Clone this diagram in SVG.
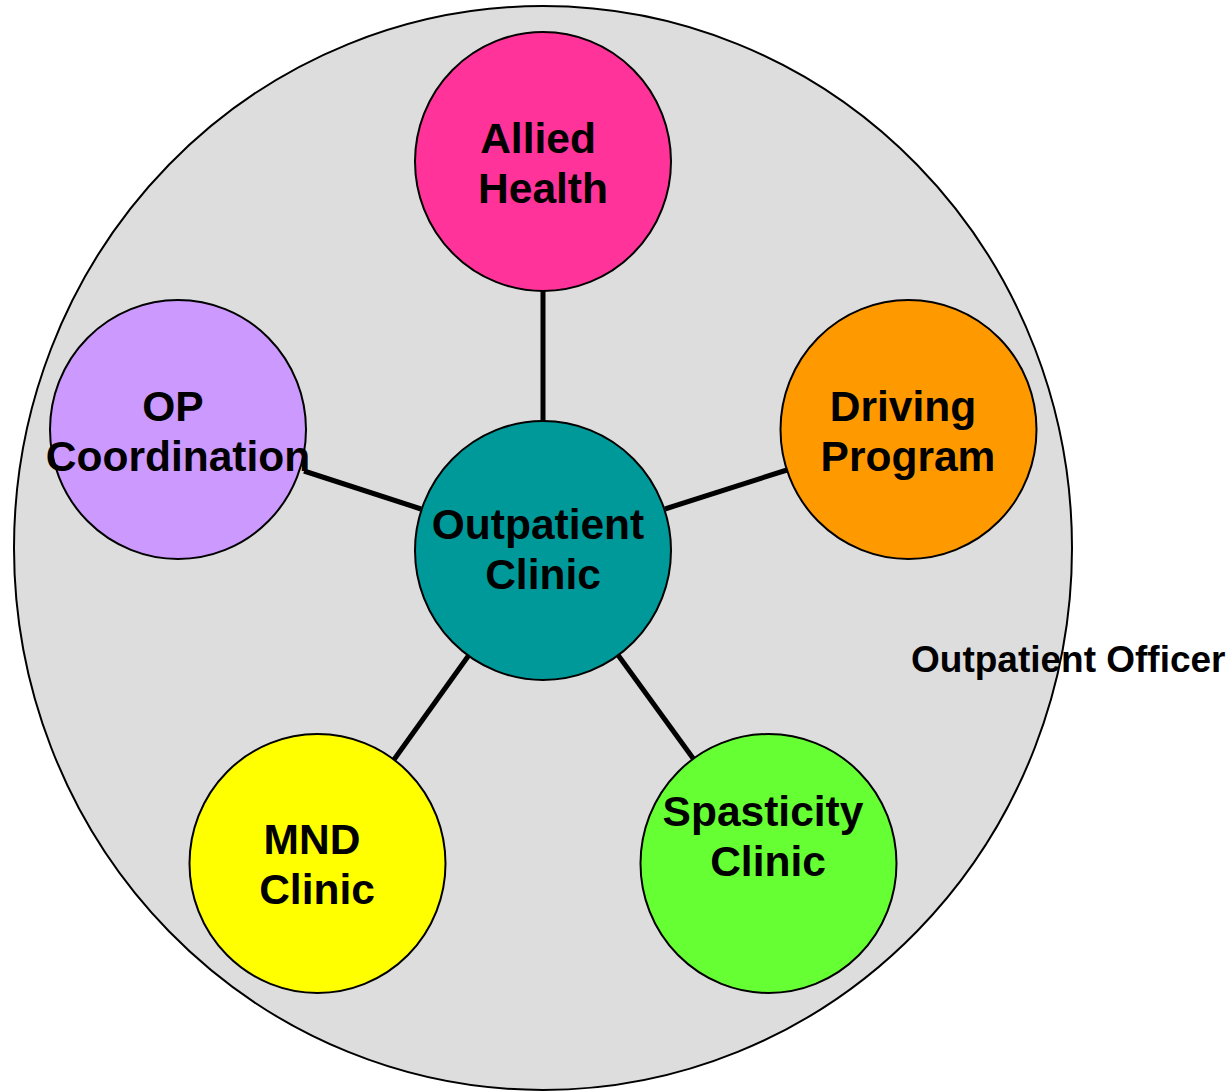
<svg xmlns="http://www.w3.org/2000/svg" width="1231" height="1092" viewBox="0 0 1231 1092">
<style>
.node{stroke:#000;stroke-width:2}
.lbl{font-family:"Liberation Sans",Arial,sans-serif;font-weight:bold;font-size:42.5px;fill:#000;text-anchor:middle}
.off{font-family:"Liberation Sans",Arial,sans-serif;font-weight:bold;font-size:37px;fill:#000}
.conn{stroke:#000;stroke-width:5;fill:none}
</style>
<rect width="1231" height="1092" fill="#fff"/>
<g id="outpatient-officer">
<ellipse cx="543" cy="548" rx="529" ry="542" fill="#DDDDDD" stroke="#000" stroke-width="2"/>
<text class="off" x="911" y="672">Outpatient Officer</text>
</g>
<g id="connectors">
<line class="conn" x1="543" y1="291" x2="543" y2="422"/>
<line class="conn" x1="304" y1="471" x2="421" y2="509"/>
<line class="conn" x1="665" y1="509" x2="787" y2="470"/>
<line class="conn" x1="393" y1="761" x2="469" y2="655"/>
<line class="conn" x1="618" y1="655" x2="695" y2="761"/>
</g>
<g id="allied-health">
<ellipse class="node" cx="543" cy="161.5" rx="128" ry="129.5" fill="#FF3399"/>
<text class="lbl" x="538" y="153">Allied</text>
<text class="lbl" x="543" y="203">Health</text>
</g>
<g id="op-coordination">
<ellipse class="node" cx="178" cy="429.5" rx="128" ry="129.5" fill="#CC99FF"/>
<text class="lbl" x="173" y="421">OP</text>
<text class="lbl" x="178" y="471">Coordination</text>
</g>
<g id="driving-program">
<ellipse class="node" cx="908.5" cy="429.5" rx="128" ry="129.5" fill="#FF9900"/>
<text class="lbl" x="903" y="421">Driving</text>
<text class="lbl" x="908" y="471">Program</text>
</g>
<g id="outpatient-clinic">
<ellipse class="node" cx="543" cy="550.5" rx="128" ry="129.5" fill="#009999"/>
<text class="lbl" x="538" y="539">Outpatient</text>
<text class="lbl" x="543" y="589">Clinic</text>
</g>
<g id="mnd-clinic">
<ellipse class="node" cx="317.5" cy="863.5" rx="128" ry="129.5" fill="#FFFF00"/>
<text class="lbl" x="312" y="854">MND</text>
<text class="lbl" x="317" y="904">Clinic</text>
</g>
<g id="spasticity-clinic">
<ellipse class="node" cx="768.5" cy="863.5" rx="128" ry="129.5" fill="#66FF33"/>
<text class="lbl" x="763" y="826">Spasticity</text>
<text class="lbl" x="768" y="876">Clinic</text>
</g>
</svg>
